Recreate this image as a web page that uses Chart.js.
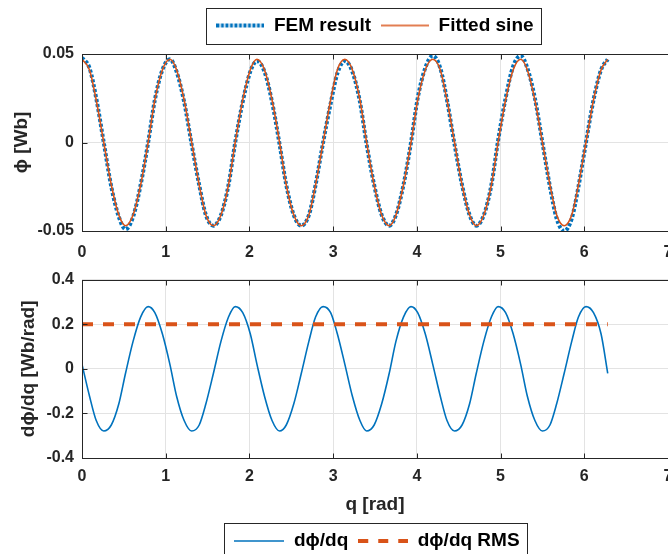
<!DOCTYPE html>
<html>
<head>
<meta charset="utf-8">
<script src="https://cdn.jsdelivr.net/npm/chart.js@4.4.1/dist/chart.umd.min.js"></script>
<style>
  html, body { margin: 0; padding: 0; background: #fff; }
  #page { position: relative; width: 668px; height: 554px; overflow: hidden; background: #fff; }
  .box { position: absolute; left: 0; width: 690px; }
  #topBox { top: 0; height: 262px; }
  #bottomBox { top: 262px; height: 310px; }
</style>
</head>
<body>
<div id="page">
  <div class="box" id="topBox"><canvas id="fluxChart"></canvas></div>
  <div class="box" id="bottomBox"><canvas id="derivChart"></canvas></div>
</div>
<script>
// rotor angle samples (rad)
const qGrid = [
  0.00, 0.09, 0.17, 0.26, 0.35, 0.44, 0.52, 0.61, 0.70, 0.79, 0.87, 0.96,
  1.05, 1.13, 1.22, 1.31, 1.40, 1.48, 1.57, 1.66, 1.75, 1.83, 1.92, 2.01,
  2.09, 2.18, 2.27, 2.36, 2.44, 2.53, 2.62, 2.71, 2.79, 2.88, 2.97, 3.05,
  3.14, 3.23, 3.32, 3.40, 3.49, 3.58, 3.67, 3.75, 3.84, 3.93, 4.01, 4.10,
  4.19, 4.28, 4.36, 4.45, 4.54, 4.63, 4.71, 4.80, 4.89, 4.97, 5.06, 5.15,
  5.24, 5.32, 5.41, 5.50, 5.59, 5.67, 5.76, 5.85, 5.93, 6.02, 6.11, 6.20,
  6.28
];

// flux linkage [Wb]
const phiFem = [
  0.048, 0.042, 0.025, 0.000, -0.025, -0.042, -0.049, -0.042, -0.024, 0.000, 0.024, 0.041,
  0.047, 0.040, 0.023, -0.001, -0.024, -0.041, -0.047, -0.041, -0.024, 0.000, 0.023, 0.040,
  0.046, 0.040, 0.023, -0.001, -0.024, -0.041, -0.047, -0.041, -0.024, 0.000, 0.022, 0.039,
  0.046, 0.040, 0.023, -0.001, -0.024, -0.041, -0.047, -0.041, -0.024, 0.000, 0.025, 0.042,
  0.049, 0.042, 0.024, -0.001, -0.024, -0.041, -0.047, -0.041, -0.024, 0.001, 0.025, 0.043,
  0.049, 0.042, 0.025, 0.000, -0.025, -0.043, -0.050, -0.043, -0.025, 0.000, 0.024, 0.041,
  0.047
];
const phiFit = [
  0.047, 0.041, 0.024, 0.000, -0.024, -0.041, -0.047, -0.041, -0.024, 0.000, 0.024, 0.041,
  0.047, 0.041, 0.024, 0.000, -0.024, -0.041, -0.047, -0.041, -0.024, 0.000, 0.024, 0.041,
  0.047, 0.041, 0.024, 0.000, -0.024, -0.041, -0.047, -0.041, -0.024, 0.000, 0.024, 0.041,
  0.047, 0.041, 0.024, 0.000, -0.024, -0.041, -0.047, -0.041, -0.024, 0.000, 0.024, 0.041,
  0.047, 0.041, 0.024, 0.000, -0.024, -0.041, -0.047, -0.041, -0.024, 0.000, 0.024, 0.041,
  0.047, 0.041, 0.024, 0.000, -0.024, -0.041, -0.047, -0.041, -0.024, 0.000, 0.024, 0.041,
  0.047
];

// derivative [Wb/rad]
const dphi = [
  0.020, -0.123, -0.232, -0.279, -0.252, -0.157, -0.020, 0.123, 0.232, 0.279, 0.252, 0.157,
  0.020, -0.123, -0.232, -0.279, -0.252, -0.157, -0.020, 0.123, 0.232, 0.279, 0.252, 0.157,
  0.020, -0.123, -0.232, -0.279, -0.252, -0.157, -0.020, 0.123, 0.232, 0.279, 0.252, 0.157,
  0.020, -0.123, -0.232, -0.279, -0.252, -0.157, -0.020, 0.123, 0.232, 0.279, 0.252, 0.157,
  0.020, -0.123, -0.232, -0.279, -0.252, -0.157, -0.020, 0.123, 0.232, 0.279, 0.252, 0.157,
  0.020, -0.123, -0.232, -0.279, -0.252, -0.157, -0.020, 0.123, 0.232, 0.279, 0.252, 0.157,
  -0.020
];
const qRms = [0, 6.28];
const dphiRms = [0.2, 0.2];

// axis ticks
const xTicks = [0, 1, 2, 3, 4, 5, 6, 7];
const phiTicks = [-0.05, 0, 0.05];
const dphiTicks = [-0.4, -0.2, 0, 0.2, 0.4];

const COLORS = {
  blue: "#0072BD",
  orange: "#D95319",
  text: "#262626",
  axis: "#262626",
  grid: "#e3e3e3"
};

Chart.defaults.font.family = "'Liberation Sans', Arial, sans-serif";
Chart.defaults.font.weight = "bold";
Chart.defaults.color = COLORS.text;

const toPoints = (xs, ys) => xs.map((x, i) => ({ x: x, y: ys[i] }));

// small line swatch used as legend point style (legend ignores dashes otherwise)
function lineSwatch(color, width, dash, len) {
  const c = document.createElement("canvas");
  c.width = len;
  c.height = 8;
  const g = c.getContext("2d");
  g.strokeStyle = color;
  g.lineWidth = width;
  g.setLineDash(dash);
  g.beginPath();
  g.moveTo(0, 4);
  g.lineTo(len, 4);
  g.stroke();
  return c;
}

// MATLAB-like axes box, inward ticks and boxed legend
const matlabFrame = {
  id: "matlabFrame",
  beforeInit(chart, args, opts) {
    const legend = chart.legend;
    const fit = legend.fit;
    legend.fit = function () {
      fit.call(this);
      this.height += opts.legendExtra || 0;
    };
  },
  afterLayout(chart, args, opts) {
    chart.legend.left += opts.legendShift || 0;
    chart.legend.right += opts.legendShift || 0;
  },
  afterDraw(chart) {
    const { ctx, chartArea: a, scales } = chart;
    ctx.save();
    ctx.strokeStyle = COLORS.axis;
    ctx.lineWidth = 1;
    const l = Math.round(a.left) + 0.5, t = Math.round(a.top) + 0.5;
    const r = Math.round(a.right) + 0.5, b = Math.round(a.bottom) + 0.5;
    ctx.strokeRect(l, t, r - l, b - t);
    ctx.beginPath();
    xTicks.forEach(v => {
      const px = Math.round(scales.x.getPixelForValue(v)) + 0.5;
      ctx.moveTo(px, b); ctx.lineTo(px, b - 5);
      ctx.moveTo(px, t); ctx.lineTo(px, t + 5);
    });
    scales.y.ticks.forEach(tk => {
      const py = Math.round(scales.y.getPixelForValue(tk.value)) + 0.5;
      ctx.moveTo(l, py); ctx.lineTo(l + 5, py);
    });
    ctx.stroke();

    const hb = chart.legend.legendHitBoxes;
    if (hb && hb.length) {
      const first = hb[0], last = hb[hb.length - 1];
      const cy = first.top + first.height / 2;
      const x0 = Math.round(first.left - 10) + 0.5;
      const x1 = Math.round(last.left + last.width + 7) + 0.5;
      ctx.strokeRect(x0, Math.round(cy - 18) + 0.5, x1 - x0, 36);
    }
    ctx.restore();
  }
};

function legendOptions(sampleLen) {
  return {
    display: true,
    labels: {
      font: { size: 19, weight: "bold" },
      color: "#000",
      usePointStyle: true,
      pointStyleWidth: sampleLen,
      padding: 10,
      sort: (a, b) => a.datasetIndex - b.datasetIndex
    }
  };
}

function xScale(height, pad, withTitle) {
  return {
    type: "linear",
    min: 0,
    max: 7,
    afterBuildTicks: s => { s.ticks = xTicks.map(v => ({ value: v })); },
    afterFit: s => { s.height = height; },
    ticks: { font: { size: 16, weight: "bold" }, padding: pad, color: COLORS.text, maxRotation: 0 },
    grid: { color: COLORS.grid, drawTicks: false },
    border: { display: false },
    title: withTitle
      ? { display: true, text: "q [rad]", font: { size: 19, weight: "bold" }, color: COLORS.text, padding: { top: 0, bottom: 5 } }
      : { display: false }
  };
}

function yScale(min, max, ticks, label, titlePad, fmt) {
  return {
    type: "linear",
    min: min,
    max: max,
    afterBuildTicks: s => { s.ticks = ticks.map(v => ({ value: v })); },
    afterFit: s => { s.width = 82; },
    ticks: { font: { size: 16, weight: "bold" }, padding: 8, color: COLORS.text, callback: fmt },
    grid: { color: COLORS.grid, drawTicks: false },
    border: { display: false },
    title: { display: true, text: label, font: { size: 19, weight: "bold" }, color: COLORS.text, padding: { top: titlePad, bottom: 0 } }
  };
}

new Chart(document.getElementById("fluxChart"), {
  type: "line",
  data: {
    datasets: [
      {
        label: "FEM result",
        data: toPoints(qGrid, phiFem),
        borderColor: COLORS.blue,
        backgroundColor: COLORS.blue,
        borderWidth: 4,
        borderDash: [3, 2],
        pointRadius: 0,
        pointStyle: lineSwatch(COLORS.blue, 4, [3, 1.5], 48),
        cubicInterpolationMode: "monotone",
        order: 2
      },
      {
        label: "Fitted sine",
        data: toPoints(qGrid, phiFit),
        borderColor: COLORS.orange,
        backgroundColor: COLORS.orange,
        borderWidth: 1.6,
        pointRadius: 0,
        pointStyle: lineSwatch(COLORS.orange, 1.6, [], 48),
        cubicInterpolationMode: "monotone",
        order: 1
      }
    ]
  },
  options: {
    responsive: true,
    maintainAspectRatio: false,
    devicePixelRatio: 1,
    animation: false,
    events: [],
    layout: { padding: { left: 0, right: 22, top: 6, bottom: 0 } },
    plugins: {
      legend: Object.assign({ position: "top" }, legendOptions(48)),
      tooltip: { enabled: false },
      matlabFrame: { legendShift: 41, legendExtra: 9 }
    },
    scales: {
      x: xScale(31, 12, false),
      y: yScale(-0.05, 0.05, phiTicks, "ϕ [Wb]", 10, v => String(Math.round(v * 100) / 100))
    }
  },
  plugins: [matlabFrame]
});

new Chart(document.getElementById("derivChart"), {
  type: "line",
  data: {
    datasets: [
      {
        label: "dϕ/dq",
        data: toPoints(qGrid, dphi),
        borderColor: COLORS.blue,
        backgroundColor: COLORS.blue,
        borderWidth: 1.6,
        pointRadius: 0,
        pointStyle: lineSwatch(COLORS.blue, 1.6, [], 50),
        cubicInterpolationMode: "monotone",
        order: 2
      },
      {
        label: "dϕ/dq RMS",
        data: toPoints(qRms, dphiRms),
        borderColor: COLORS.orange,
        backgroundColor: COLORS.orange,
        borderWidth: 4,
        borderDash: [11, 10],
        pointRadius: 0,
        pointStyle: lineSwatch(COLORS.orange, 4, [10, 10], 50),
        order: 1
      }
    ]
  },
  options: {
    responsive: true,
    maintainAspectRatio: false,
    devicePixelRatio: 1,
    animation: false,
    events: [],
    layout: { padding: { left: 0, right: 22, top: 11, bottom: 11.5 } },
    plugins: {
      legend: Object.assign({ position: "bottom" }, legendOptions(50)),
      tooltip: { enabled: false },
      matlabFrame: { legendShift: 43, legendExtra: 0 }
    },
    scales: {
      x: xScale(63.5, 9, true),
      y: yScale(-0.4, 0.4, dphiTicks, "dϕ/dq [Wb/rad]", 17, v => String(Math.round(v * 10) / 10))
    }
  },
  plugins: [matlabFrame]
});
</script>
</body>
</html>
